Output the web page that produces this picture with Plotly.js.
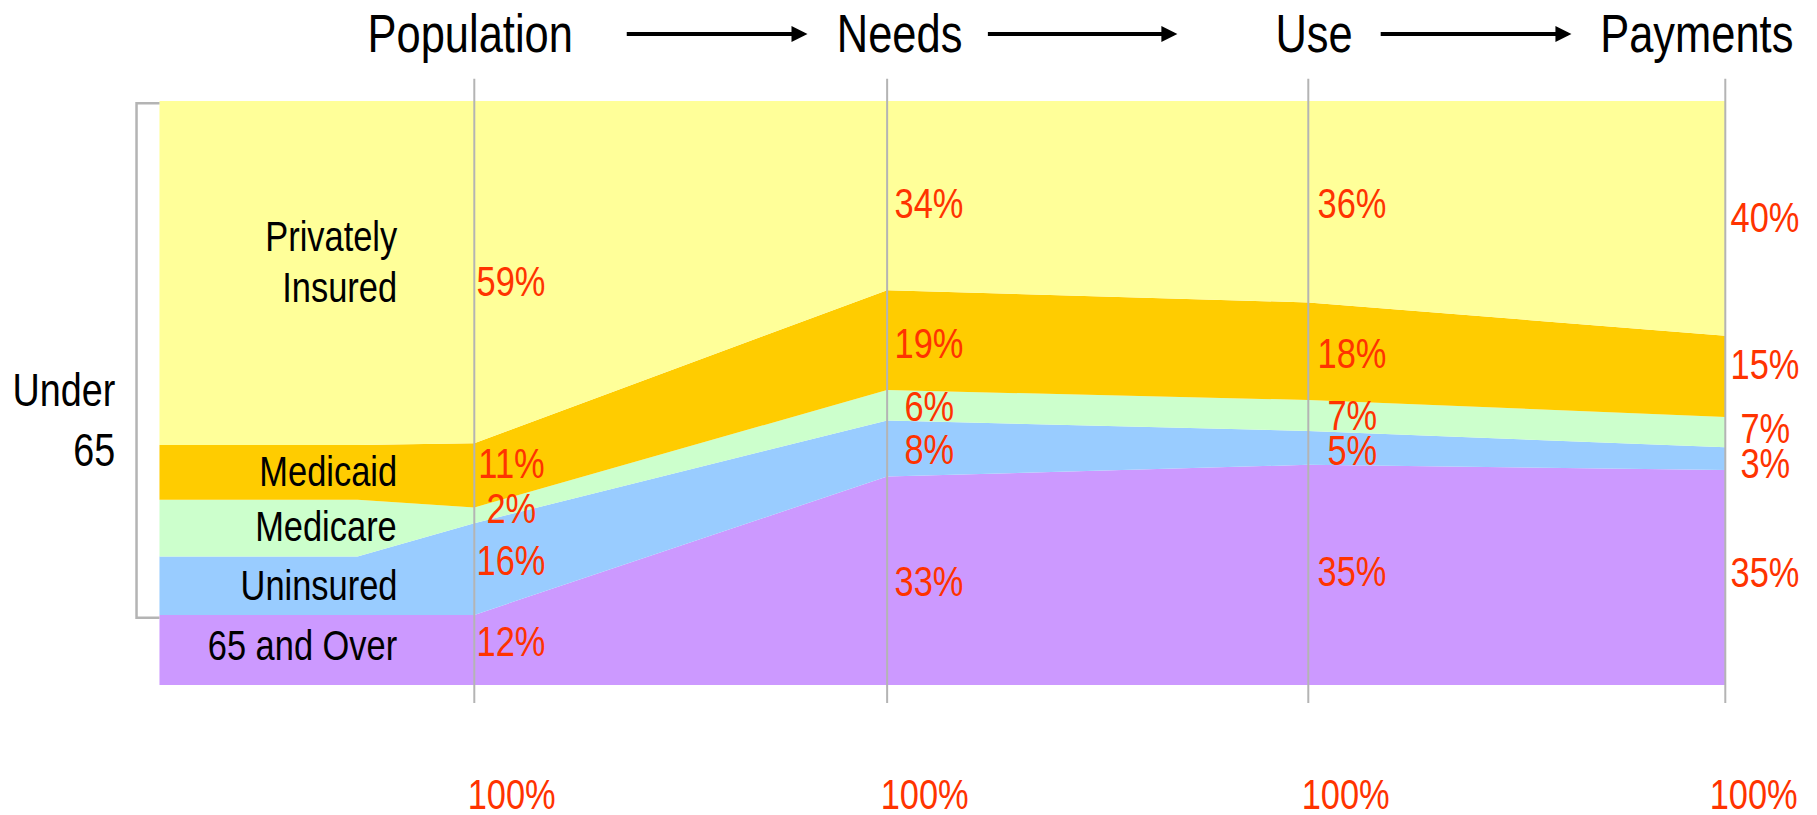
<!DOCTYPE html>
<html><head><meta charset="utf-8">
<script src="https://cdn.plot.ly/plotly-3.0.1.min.js"></script>
<style>html,body{margin:0;padding:0;background:#fff;overflow:hidden}</style>
</head><body><div id="chart" style="width:1817px;height:815px"></div>
<script>
// ---- data ----
const stages = ['Population', 'Needs', 'Use', 'Payments'];
const stageX = [0, 0.99, 2, 3];
const leadX = [-0.755, -0.28];           // left-hand "Population" panel points
const xAll = leadX.concat(stageX);

const seriesNames = ['65 and Over', 'Uninsured', 'Medicare', 'Medicaid', 'Privately Insured'];
const over65     = [12, 12, 12, 35.7, 37.7, 36.8];
const uninsured  = [10, 10, 15.7, 9.6, 5.8, 3.9];
const medicare   = [9.7, 9.7, 2.7, 5.2, 5.3, 5.2];
const medicaid   = [9.4, 9.4, 11, 17.1, 16.7, 13.9];
const privateIns = [58.9, 58.9, 58.6, 32.4, 34.5, 40.2];

const lblOver65    = ['12%', '33%', '35%', '35%'];
const lblUninsured = ['16%', '8%', '5%', '3%'];
const lblMedicare  = ['2%', '6%', '7%', '7%'];
const lblMedicaid  = ['11%', '19%', '18%', '15%'];
const lblPrivate   = ['59%', '34%', '36%', '40%'];
const totals       = ['100%', '100%', '100%', '100%'];
const seriesLabels = [['65 and Over'], ['Uninsured'], ['Medicare'], ['Medicaid'], ['Privately', 'Insured']];
const groupLabel = 'Under<br>65';

// ---- layout positions / styles ----
const colors = ['#CC99FF', '#99CCFF', '#CCFFCC', '#FFCC00', '#FFFF99'];
const FONT = 'Liberation Sans, Arial, sans-serif';
const RED = '#FF3300';
const GRAY = '#B4B4B4';
const NARROW = 0.82;
// vertical placement (in % units) of the percent labels, per stage, bottom to top band
const pctLabelY = [
  [7.4, 21.4, 30.3, 38.0, 69.1],
  [17.7, 40.4, 47.7, 58.4, 82.4],
  [19.4, 40.2, 46.2, 56.7, 82.4],
  [19.3, 38.0, 44.0, 54.8, 80.1]
];
const catLabelY = [6.7, 17.1, 27.1, 36.5, 72.4];
const pctShift = [37, 42, 44, 40];
const totShift = [37, 37, 37, 28];
const titleShift = [-4, 12, 6, -28];
const arrowX = [[0.362, 0.799], [1.228, 1.686], [2.170, 2.631]];

const values = [over65, uninsured, medicare, medicaid, privateIns];
const pctLabels = [lblOver65, lblUninsured, lblMedicare, lblMedicaid, lblPrivate];

const traces = values.map((v, i) => ({
  x: xAll, y: v, type: 'scatter', mode: 'lines', stackgroup: 'one',
  name: seriesNames[i], line: {width: 0, color: colors[i]}, fillcolor: colors[i],
  hoverinfo: 'skip'
}));

const annotations = [];
const origins = [];   // horizontal squeeze origin for each annotation text
const shapes = [];
function addAnn(a, origin) { annotations.push(a); origins.push(origin); }

stageX.forEach((sx, k) => {
  values.forEach((v, i) => {
    addAnn({x: sx, y: pctLabelY[k][i], xref: 'x', yref: 'y', text: pctLabels[i][k],
      showarrow: false, xanchor: 'center', yanchor: 'middle', xshift: pctShift[k],
      font: {family: FONT, size: 42, color: RED}}, '50% 50%');
  });
  addAnn({x: sx, y: -0.188, xref: 'x', yref: 'paper', text: totals[k],
    showarrow: false, xanchor: 'center', yanchor: 'middle', xshift: totShift[k],
    font: {family: FONT, size: 42, color: RED}}, '50% 50%');
  addAnn({x: sx, y: 1.115, xref: 'x', yref: 'paper', text: stages[k],
    showarrow: false, xanchor: 'center', yanchor: 'middle', xshift: titleShift[k],
    font: {family: FONT, size: 53, color: '#000'}}, '50% 50%');
  shapes.push({type: 'line', xref: 'x', yref: 'paper', x0: sx, x1: sx, y0: -0.031, y1: 1.038,
    line: {color: GRAY, width: 2}});
});

// category labels in left panel
seriesLabels.forEach((lines, i) => {
  lines.forEach((ln, li) => {
    const off = lines.length > 1 ? (li === 0 ? 25.5 : -25.5) : 0;
    addAnn({x: -0.18, y: catLabelY[i], xref: 'x', yref: 'y', yshift: off, text: ln,
      showarrow: false, xanchor: 'right', yanchor: 'middle', align: 'right',
      font: {family: FONT, size: 42, color: '#000'}}, '100% 50%');
  });
});
addAnn({x: -0.856, y: 45.4, xref: 'x', yref: 'y', text: groupLabel,
  showarrow: false, xanchor: 'right', yanchor: 'middle', align: 'right',
  font: {family: FONT, size: 46, color: '#000'}}, '100% 50%');

// arrows between stage titles
arrowX.forEach(([a, b]) => {
  addAnn({x: b, y: 1.1147, xref: 'x', yref: 'paper', ax: a, axref: 'x', ay: 0, ayref: 'pixel',
    text: '', showarrow: true, arrowhead: 2, arrowsize: 0.8, arrowwidth: 4, arrowcolor: '#000',
    standoff: 0, startstandoff: 0}, null);
});

// bracket for "Under 65"
const under65Top = values.reduce((s, v) => s + v[0], 0);
const under65Bot = over65[0];
shapes.push({type: 'path', xref: 'x', yref: 'y',
  path: `M -0.755 ${under65Top - 0.4} L -0.81 ${under65Top - 0.4} L -0.81 ${under65Bot - 0.5} L -0.755 ${under65Bot - 0.5}`,
  line: {color: GRAY, width: 2.5}});

const layout = {
  width: 1817, height: 815,
  margin: {l: 99, r: 50, t: 101, b: 130},
  paper_bgcolor: '#fff', plot_bgcolor: '#fff',
  showlegend: false,
  xaxis: {range: [-0.9, 3.1], visible: false, fixedrange: true},
  yaxis: {range: [0, 100], visible: false, fixedrange: true},
  annotations, shapes
};
Plotly.newPlot('chart', traces, layout, {displayModeBar: false, staticPlot: true}).then(gd => {
  // condense the text horizontally (narrow sans look of the original)
  gd.querySelectorAll('g.annotation').forEach(g => {
    const idx = +g.getAttribute('data-index');
    const origin = origins[idx];
    if (!origin) return;
    const t = g.querySelector('text.annotation-text');
    if (!t) return;
    t.style.transformBox = 'fill-box';
    t.style.transformOrigin = origin;
    t.style.transform = 'scaleX(' + NARROW + ')';
  });
});
</script></body></html>
